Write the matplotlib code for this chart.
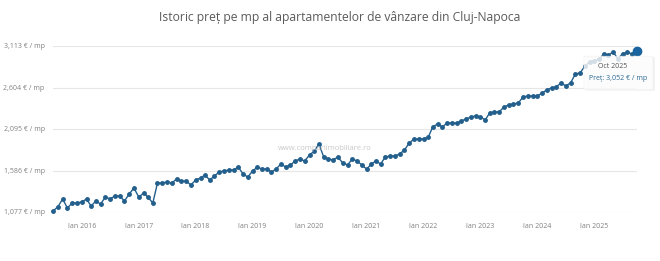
import matplotlib
matplotlib.use("Agg")
import matplotlib.pyplot as plt
from matplotlib.patches import FancyBboxPatch
import pandas as pd

plt.rcParams['font.family'] = ['Open Sans', 'DejaVu Sans']

# monthly price per sqm, Jul 2015 .. Oct 2025
months = pd.date_range('2015-07-01', periods=124, freq='MS')
prices = [
    1090, 1140, 1237, 1126, 1187, 1187, 1200, 1237, 1150, 1212,
    1175, 1260, 1237, 1273, 1273, 1212, 1298, 1372, 1260, 1310,
    1260, 1187, 1433, 1433, 1445, 1433, 1482, 1457, 1457, 1408,
    1470, 1494, 1531, 1470, 1519, 1568, 1580, 1592, 1592, 1629,
    1543, 1506, 1580, 1629, 1604, 1604, 1568, 1604, 1666, 1629,
    1654, 1703, 1727, 1703, 1776, 1825, 1911, 1752, 1727, 1715,
    1752, 1678, 1654, 1727, 1703, 1654, 1604, 1666, 1703, 1666,
    1752, 1764, 1764, 1789, 1838, 1923, 1973, 1973, 1973, 1997,
    2120, 2157, 2120, 2169, 2169, 2169, 2194, 2218, 2243, 2255,
    2243, 2206, 2292, 2304, 2304, 2365, 2390, 2402, 2414, 2488,
    2500, 2500, 2500, 2537, 2574, 2598, 2611, 2660, 2623, 2660,
    2770, 2782, 2868, 2917, 2930, 2950, 3015, 3003, 3040, 2955,
    3020, 3035, 3015, 3052,
]
y_ticks = [1077, 1586, 2095, 2604, 3113]
y_labels = ['1,077 € / mp', '1,586 € / mp', '2,095 € / mp', '2,604 € / mp', '3,113 € / mp']
x_years = list(range(2016, 2026))

title = 'Istoric preț pe mp al apartamentelor de vânzare din Cluj-Napoca'
blue = '#235f8c'

fig = plt.figure(figsize=(6.6, 2.61), dpi=100)
ax = fig.add_axes([53/660, 1 - 212/261, (637-53)/660, (212-46)/261])

ax.plot(months, prices, color=blue, lw=1.0, marker='o', ms=2.5,
        mfc=blue, mec=blue, clip_on=False, zorder=3)
ax.plot(months[-1], prices[-1], 'o', ms=6, color='#1a64a0', clip_on=False, zorder=4)

ax.set_xlim(months[0], months[-1])
ax.set_ylim(y_ticks[0], y_ticks[-1])
ax.set_yticks(y_ticks)
ax.set_yticklabels(y_labels)
ax.set_xticks([pd.Timestamp(f'{y}-01-01') for y in x_years])
ax.set_xticklabels([f'Ian {y}' for y in x_years])
ax.tick_params(axis='both', length=0, labelsize=5, colors='#808080')
ax.tick_params(axis='x', pad=8)
ax.tick_params(axis='y', pad=6)
ax.grid(axis='y', color='#e6e6e6', lw=0.8)
ax.set_axisbelow(True)
for s in ax.spines.values():
    s.set_visible(False)

fig.text(340/660, 1 - 18/261, title, ha='center', va='center', fontsize=8.7, color='#5a5a5a')

# watermark
fig.text(325/660, 1 - 149/261, 'www.compariimobiliare.ro', ha='center', va='center',
         fontsize=5.5, color='#c8c8c8', zorder=2)

# tooltip
shadow = FancyBboxPatch((588/660, 1 - 90/261), 65/660, 32/261, boxstyle='round,pad=0.003',
                        transform=fig.transFigure, fc='#000000', ec='none', alpha=0.05, zorder=5)
box = FancyBboxPatch((586/660, 1 - 89/261), 65/660, 32/261, boxstyle='round,pad=0.003',
                     transform=fig.transFigure, fc='white', ec='#eeeeee', lw=0.5, alpha=0.8, zorder=6)
fig.patches.extend([shadow, box])
fig.text(613/660, 1 - 67/261, 'Oct 2025', ha='center', va='center', fontsize=5,
         color='#555555', zorder=7)
fig.text(618/660, 1 - 79/261, 'Preț: 3,052 € / mp', ha='center', va='center', fontsize=5,
         color='#2a6a94', zorder=7)

fig.savefig('out.png', dpi=100, facecolor='white')
